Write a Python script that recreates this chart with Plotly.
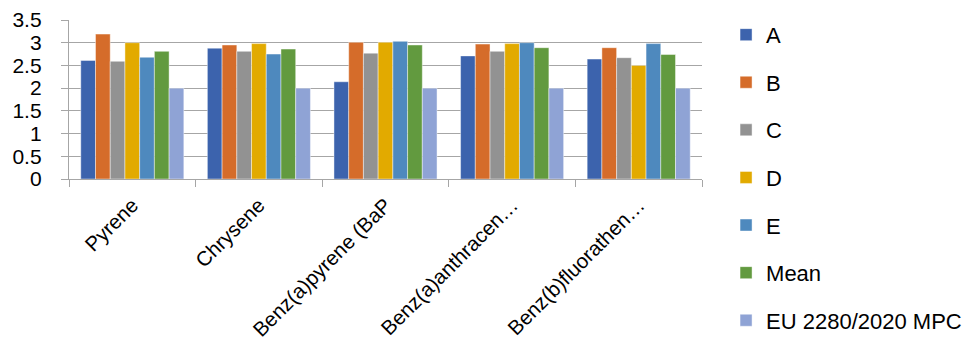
import plotly.graph_objects as go

categories = ["Pyrene", "Chrysene", "Benz(a)pyrene (BaP", "Benz(a)anthracen…", "Benz(b)fluorathen…"]
series_names = ["A", "B", "C", "D", "E", "Mean", "EU 2280/2020 MPC"]
values_a = [2.61, 2.88, 2.14, 2.71, 2.64]
values_b = [3.19, 2.95, 3.01, 2.97, 2.89]
values_c = [2.59, 2.81, 2.77, 2.81, 2.67]
values_d = [3.00, 2.98, 3.01, 2.98, 2.50]
values_e = [2.68, 2.75, 3.03, 3.00, 2.98]
values_mean = [2.81, 2.86, 2.95, 2.89, 2.74]
values_mpc = [2.0, 2.0, 2.0, 2.0, 2.0]
y_ticks = [0, 0.5, 1, 1.5, 2, 2.5, 3, 3.5]

colors = ["#3C63AD", "#D56C2A", "#929292", "#E2AA00", "#4E89BE", "#629A3F", "#8FA3D5"]
all_values = [values_a, values_b, values_c, values_d, values_e, values_mean, values_mpc]

FONT = "Liberation Sans"
AXIS_GREY = "#A6A6A6"

fig = go.Figure()
for name, vals, col in zip(series_names, all_values, colors):
    fig.add_trace(go.Bar(
        x=categories, y=vals, name=name,
        marker=dict(color=col, line=dict(color="rgba(255,255,255,0.55)", width=0.8)),
        legendgroup=name,
    ))

fig.update_layout(
    width=979, height=346,
    margin=dict(l=69, r=277, t=20, b=167, autoexpand=False),
    paper_bgcolor="white", plot_bgcolor="white",
    barmode="group", bargap=0.186, bargroupgap=0,
    font=dict(family=FONT, color="#000000"),
    legend=dict(
        x=1.038, xanchor="left", yref="container", y=0.96, yanchor="top",
        font=dict(family=FONT, size=22, color="#000000"),
        tracegroupgap=16, bgcolor="rgba(0,0,0,0)", maxheight=346,
    ),
    showlegend=True,
)
fig.update_xaxes(
    type="category", automargin=False,
    range=[-0.5, 4.5],
    tickson="boundaries", ticks="outside", ticklen=7, tickcolor=AXIS_GREY, tickwidth=1.3,
    showline=True, linecolor=AXIS_GREY, linewidth=1.3,
    showgrid=False, tickangle=-45, ticklabelstandoff=5,
    tickfont=dict(family=FONT, size=20.5, color="#000000"),
)
fig.update_yaxes(
    range=[0, 3.5], tickvals=y_ticks, ticktext=[f"{v:g}" for v in y_ticks],
    automargin=False,
    showgrid=True, gridcolor=AXIS_GREY, gridwidth=1.3,
    showline=True, linecolor=AXIS_GREY, linewidth=1.3,
    zeroline=False, ticks="outside", ticklen=7, tickcolor=AXIS_GREY, tickwidth=1.3,
    ticklabelstandoff=15,
    tickfont=dict(family=FONT, size=21, color="#000000"),
)

fig.write_html("out.html")
